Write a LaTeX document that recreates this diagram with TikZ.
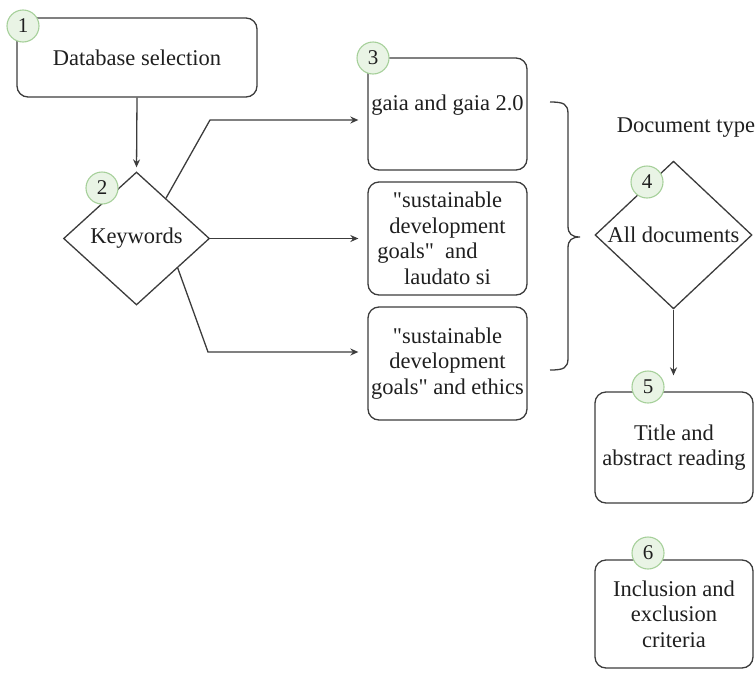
\documentclass[tikz,border=0pt]{standalone}
\usepackage{fontspec}
\setmainfont{Liberation Serif}[Ligatures=TeXOff]
\usetikzlibrary{shapes.geometric,arrows.meta,calc}
\definecolor{ln}{HTML}{3C3C3C}
\definecolor{numfill}{HTML}{E9F4E5}
\definecolor{numdraw}{HTML}{A6D09A}
\begin{document}
\begin{tikzpicture}[x=1pt,y=-1pt,
  every node/.style={font=\fontsize{22.5}{25.5}\selectfont, text=black!88},
  box/.style={draw=ln, line width=1.3pt, rounded corners=11pt, inner sep=0pt, align=center},
  dia/.style={draw=ln, line width=1.3pt, diamond, inner sep=0pt, align=center},
  num/.style={circle, draw=numdraw, fill=numfill, line width=1.1pt, minimum size=32pt, inner sep=0pt, font=\fontsize{21}{21}\selectfont},
  arr/.style={draw=ln, line width=1.3pt, -{Stealth[length=8pt,width=7pt]}},
  lin/.style={draw=ln, line width=1.3pt}]
\useasboundingbox (0,0) rectangle (755,675);
% boxes
\node[box, minimum width=240pt, minimum height=79pt] (b1) at (137,57.5) {Database selection};
\node[dia, minimum width=146pt, minimum height=133pt] (kw) at (136.5,238.5) {Keywords};
\node[box, minimum width=159pt, minimum height=112pt] (b3a) at (447.5,114) {};
\node at (447.5,105) {gaia and gaia 2.0};
\node[box, minimum width=159pt, minimum height=113pt] (b3b) at (447.5,238.5) {"sustainable\\ development\\ \hspace*{-40pt}goals"\ \ and\\ laudato si};
\node[box, minimum width=159pt, minimum height=113pt] (b3c) at (447.5,363.5) {"sustainable\\ development\\ goals" and ethics};
\node (dt) at (686,128) {Document type};
\node[dia, minimum width=157pt, minimum height=136pt] (d4) at (673.5,235) {All documents};
\node[box, minimum width=158pt, minimum height=111pt] (b5) at (674,447.5) {Title and\\ abstract reading};
\node[box, minimum width=158pt, minimum height=108pt] (b6) at (674,614) {Inclusion and\\ exclusion\\ criteria};
% connectors
\draw[arr, shorten >=4pt] (b1.south) -- (kw.north);
\coordinate (k1) at (210,120);
\coordinate (k3) at (208,352);
\draw[arr, shorten >=9pt] ($(kw.north)!0.4!(kw.east)$) -- (k1) -- ($(b3a.west)+(0,6)$);
\draw[arr, shorten >=9pt] (kw.east) -- (b3b.west);
\draw[arr, shorten >=9pt] ($(kw.east)!0.44!(kw.south)$) -- (k3) -- ($(b3c.west)+(0,-11.5)$);
\draw[arr, shorten >=16pt] (d4.south) -- (d4.south |- b5.north);
% brace
\draw[lin] (550,102) .. controls (564,102) and (568,104) .. (568,114) -- (568,226)
  .. controls (568,234) and (572,237) .. (580,237)
  .. controls (572,237) and (568,240) .. (568,248) -- (568,358)
  .. controls (568,368) and (564,370) .. (550,370);
% numbers
\node[num] (n1) at (23,26) {1};
\node[num] (n2) at (102,188) {2};
\node[num] (n3) at (373,58) {3};
\node[num] (n4) at (647,182) {4};
\node[num] (n5) at (648,387) {5};
\node[num] (n6) at (648,553) {6};
\end{tikzpicture}
\end{document}
